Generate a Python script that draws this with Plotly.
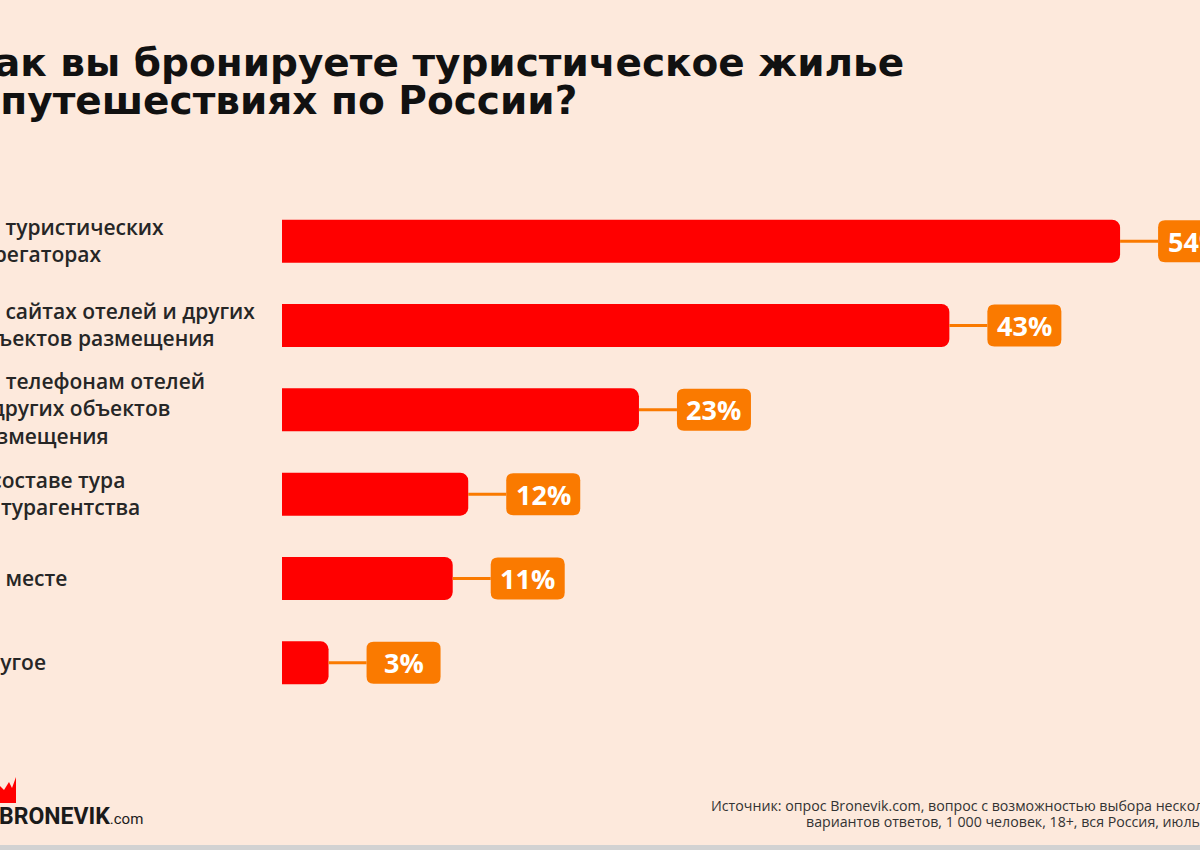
import plotly.graph_objects as go

# ---- data ----
categories = [
    "На туристических<br>агрегаторах",
    "На сайтах отелей и других<br>объектов размещения",
    "По телефонам отелей<br>и других объектов<br>размещения",
    "В составе тура<br>от турагентства",
    "На месте",
    "Другое",
]
values = [54, 43, 23, 12, 11, 3]
value_labels = ["54%", "43%", "23%", "12%", "11%", "3%"]
title_lines = ["Как вы бронируете туристическое жилье", "в путешествиях по России?"]
source_lines = [
    "Источник: опрос Bronevik.com, вопрос с возможностью выбора нескольких",
    "вариантов ответов, 1 000 человек, 18+, вся Россия, июль 2023",
]

# ---- styling / layout helpers ----
BG = "#FDE9DC"
RED = "#FF0000"
ORANGE = "#FA7A00"
FONT = "Open Sans"
W_FIG, H_FIG = 1200, 850
L, T, PW, PH = 282, 199, 918, 506
PX_PER_UNIT = 15.52


def px(x):
    return (x - L) / PW


def py(y):
    return (T + PH - y) / PH


fig = go.Figure()
fig.add_trace(go.Bar(
    x=values, y=categories, orientation="h",
    marker=dict(color=RED, cornerradius=8, line=dict(width=0)),
    hoverinfo="skip",
))

shapes = []
annotations = []

# connectors, label boxes and value labels
GAP, BOXW, BOXH, R = 38, 74, 42, 7
x0, x1, y0, y1 = GAP, GAP + BOXW, -BOXH / 2, BOXH / 2
box_path = (
    f"M {x0 + R},{y0} L {x1 - R},{y0} Q {x1},{y0} {x1},{y0 + R} "
    f"L {x1},{y1 - R} Q {x1},{y1} {x1 - R},{y1} "
    f"L {x0 + R},{y1} Q {x0},{y1} {x0},{y1 - R} "
    f"L {x0},{y0 + R} Q {x0},{y0} {x0 + R},{y0} Z"
)
for cat, v, lab in zip(categories, values, value_labels):
    shapes.append(dict(
        type="line", xref="x", yref="y",
        xsizemode="pixel", xanchor=v, x0=0, x1=GAP,
        ysizemode="pixel", yanchor=cat, y0=0, y1=0,
        line=dict(color=ORANGE, width=3), layer="above",
    ))
    shapes.append(dict(
        type="path", xref="x", yref="y",
        xsizemode="pixel", xanchor=v,
        ysizemode="pixel", yanchor=cat,
        path=box_path, fillcolor=ORANGE, line=dict(width=0), layer="above",
    ))
    annotations.append(dict(
        x=v, y=cat, xref="x", yref="y", xshift=GAP + BOXW / 2,
        text=lab, showarrow=False, xanchor="center", yanchor="middle",
        font=dict(family=FONT, size=27, color="white", weight=700),
    ))
    # category label (left aligned)
    annotations.append(dict(
        x=px(-30), y=cat, xref="paper", yref="y", yshift=1,
        text=cat, showarrow=False, xanchor="left", yanchor="middle",
        align="left",
        font=dict(family=FONT, size=21, color="#262626", weight=600),
    ))

# title
for i, line in enumerate(title_lines):
    annotations.append(dict(
        x=px(-40), y=py(62 + i * 38), xref="paper", yref="paper",
        text=line, showarrow=False, xanchor="left", yanchor="middle",
        font=dict(family="DejaVu Sans", size=39, color="#111111", weight=700),
    ))

# source
for i, line in enumerate(source_lines):
    annotations.append(dict(
        x=px(1238), y=py(805 + i * 16), xref="paper", yref="paper",
        text=line, showarrow=False, xanchor="right", yanchor="middle",
        font=dict(family=FONT, size=14.2, color="#333333"),
    ))

# logo
annotations.append(dict(
    x=px(-3), y=py(816), xref="paper", yref="paper",
    text="<b>BRONEVIK</b><span style='font-size:15px'>.com</span>",
    showarrow=False, xanchor="left", yanchor="middle",
    font=dict(family="Roboto", size=23, color="#1a1a1a"),
))
shapes.append(dict(
    type="path", xref="paper", yref="paper",
    path=(f"M {px(0)},{py(803)} L {px(0)},{py(786)} L {px(4)},{py(790)} "
          f"L {px(9)},{py(782)} L {px(12)},{py(788)} L {px(16)},{py(777)} "
          f"L {px(16)},{py(803)} Z"),
    fillcolor=RED, line=dict(width=0),
))

# bottom grey band
shapes.append(dict(
    type="rect", xref="paper", yref="paper",
    x0=px(0), x1=px(1200), y0=py(845), y1=py(850),
    fillcolor="#D2D2D2", line=dict(width=0),
))

fig.update_layout(
    width=W_FIG, height=H_FIG,
    paper_bgcolor=BG, plot_bgcolor=BG,
    margin=dict(l=L, r=W_FIG - L - PW, t=T, b=H_FIG - T - PH),
    showlegend=False,
    bargap=0.49,
    xaxis=dict(range=[0, PW / PX_PER_UNIT], visible=False, fixedrange=True),
    yaxis=dict(autorange="reversed", visible=False, type="category", fixedrange=True),
    shapes=shapes,
    annotations=annotations,
)

fig.write_html("out.html", config={"displayModeBar": False})
